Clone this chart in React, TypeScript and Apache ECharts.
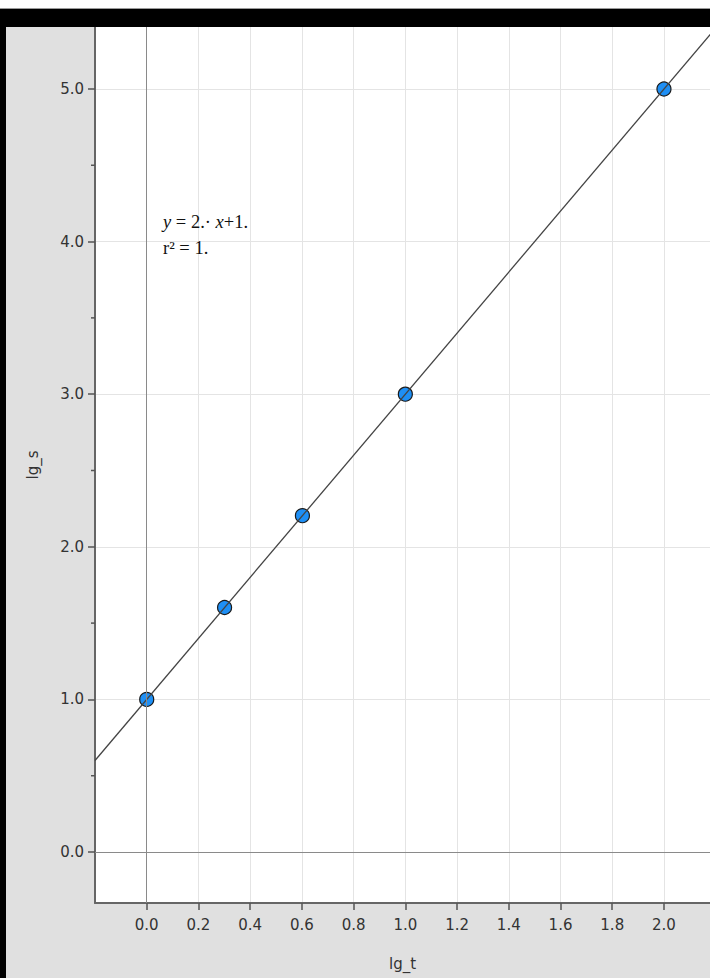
import React, { useEffect, useRef } from "react";
import * as echarts from "echarts";

const lgT = [0, 0.301, 0.602, 1.0, 2.0];
const lgS = [1.0, 1.602, 2.204, 3.0, 5.0];
const fitX = [-0.2, 2.2];
const fitY = [0.6, 5.4];
const xTicks = [0, 0.2, 0.4, 0.6, 0.8, 1.0, 1.2, 1.4, 1.6, 1.8, 2.0];
const yTicks = [0, 1, 2, 3, 4, 5];
const yMinorTicks = [0.5, 1.5, 2.5, 3.5, 4.5];
const xRange = [-0.2, 2.178];
const yRange = [-0.334, 5.406];
const fitText = "{i|y} = 2.· {i|x}+1.";
const r2Text = "r² = 1.";

export default function App() {
  const ref = useRef<HTMLDivElement>(null);
  useEffect(() => {
    const chart = echarts.init(ref.current!, undefined, { renderer: "svg" });
    const font = "DejaVu Sans";
    const serifSize = 18.5;
    chart.setOption({
      animation: false,
      backgroundColor: "#ffffff",
      grid: {
        left: 95,
        top: 27,
        right: 0,
        bottom: 75,
        show: true,
        backgroundColor: "#ffffff",
        borderWidth: 0,
        outerBoundsMode: "none",
      },
      graphic: [
        { type: "rect", shape: { x: 0, y: 27, width: 710, height: 951 }, style: { fill: "#e0e0e0" }, z: -10, silent: true },
        { type: "rect", shape: { x: 0, y: 9, width: 710, height: 18 }, style: { fill: "#000000" }, z: 100, silent: true },
        { type: "line", shape: { x1: 0, y1: 8.5, x2: 710, y2: 8.5 }, style: { stroke: "#9a9a9a", lineWidth: 1 }, z: 100, silent: true },
        { type: "rect", shape: { x: 0, y: 9, width: 6, height: 969 }, style: { fill: "#000000" }, z: 100, silent: true },
        {
          type: "text",
          x: 163,
          y: 212,
          style: {
            text: fitText,
            fontFamily: "Liberation Serif",
            fontSize: serifSize,
            fill: "#111",
            rich: { i: { fontStyle: "italic", fontFamily: "Liberation Serif", fontSize: serifSize, fill: "#111" } },
          },
          z: 50,
        },
        {
          type: "text",
          x: 163,
          y: 238,
          style: { text: r2Text, fontFamily: "Liberation Serif", fontSize: serifSize, fill: "#111" },
          z: 50,
        },
      ],
      xAxis: {
        type: "value",
        min: xRange[0],
        max: xRange[1],
        name: "lg_t",
        nameLocation: "middle",
        nameGap: 53,
        nameTextStyle: { fontFamily: font, fontSize: 15, color: "#333" },
        axisLine: { onZero: false, lineStyle: { color: "#666", width: 2 } },
        axisTick: { show: true, length: 7, customValues: xTicks, lineStyle: { color: "#555", width: 1.5 } },
        axisLabel: {
          customValues: xTicks,
          formatter: (v: number) => v.toFixed(1),
          fontFamily: font,
          fontSize: 15,
          color: "#333",
          margin: 14,
        },
        splitLine: { show: true, lineStyle: { color: "#e4e4e4", width: 1 } },
      },
      yAxis: {
        type: "value",
        min: yRange[0],
        max: yRange[1],
        name: "lg_s",
        nameLocation: "middle",
        nameGap: 55,
        nameTextStyle: { fontFamily: font, fontSize: 15, color: "#333" },
        axisLine: { onZero: false, lineStyle: { color: "#666", width: 2 } },
        axisTick: { show: true, length: 7, customValues: yTicks, lineStyle: { color: "#555", width: 1.5 } },
        axisLabel: {
          customValues: yTicks,
          formatter: (v: number) => v.toFixed(1),
          fontFamily: font,
          fontSize: 15,
          color: "#333",
          margin: 11,
        },
        splitLine: { show: true, lineStyle: { color: "#e4e4e4", width: 1 } },
      },
      series: [
        {
          type: "custom",
          clip: false,
          silent: true,
          data: yMinorTicks.map((v) => [xRange[0], v]),
          renderItem: (params: any, api: any) => {
            const p = api.coord([api.value(0), api.value(1)]);
            return {
              type: "line",
              shape: { x1: p[0] - 4, y1: p[1], x2: p[0], y2: p[1] },
              style: { stroke: "#555", lineWidth: 1.5 },
            };
          },
          z: 5,
        },
        {
          type: "scatter",
          data: lgT.map((x, i) => [x, lgS[i]]),
          symbol: "circle",
          symbolSize: 14,
          itemStyle: { color: "#1e8ff5", borderColor: "#1a1a1a", borderWidth: 1.2, opacity: 1 },
          z: 3,
        },
        {
          type: "line",
          data: fitX.map((x, i) => [x, fitY[i]]),
          showSymbol: false,
          symbol: "none",
          clip: true,
          lineStyle: { color: "#444", width: 1.3 },
          z: 4,
          markLine: {
            silent: true,
            symbol: "none",
            label: { show: false },
            lineStyle: { color: "#8a8a8a", width: 1, type: "solid" },
            data: [{ xAxis: 0 }, { yAxis: 0 }],
          },
        },
      ],
    });
    return () => chart.dispose();
  }, []);
  return (
    <div
      ref={ref}
      style={{ position: "fixed", left: 0, top: 0, width: 710, height: 978 }}
    />
  );
}
